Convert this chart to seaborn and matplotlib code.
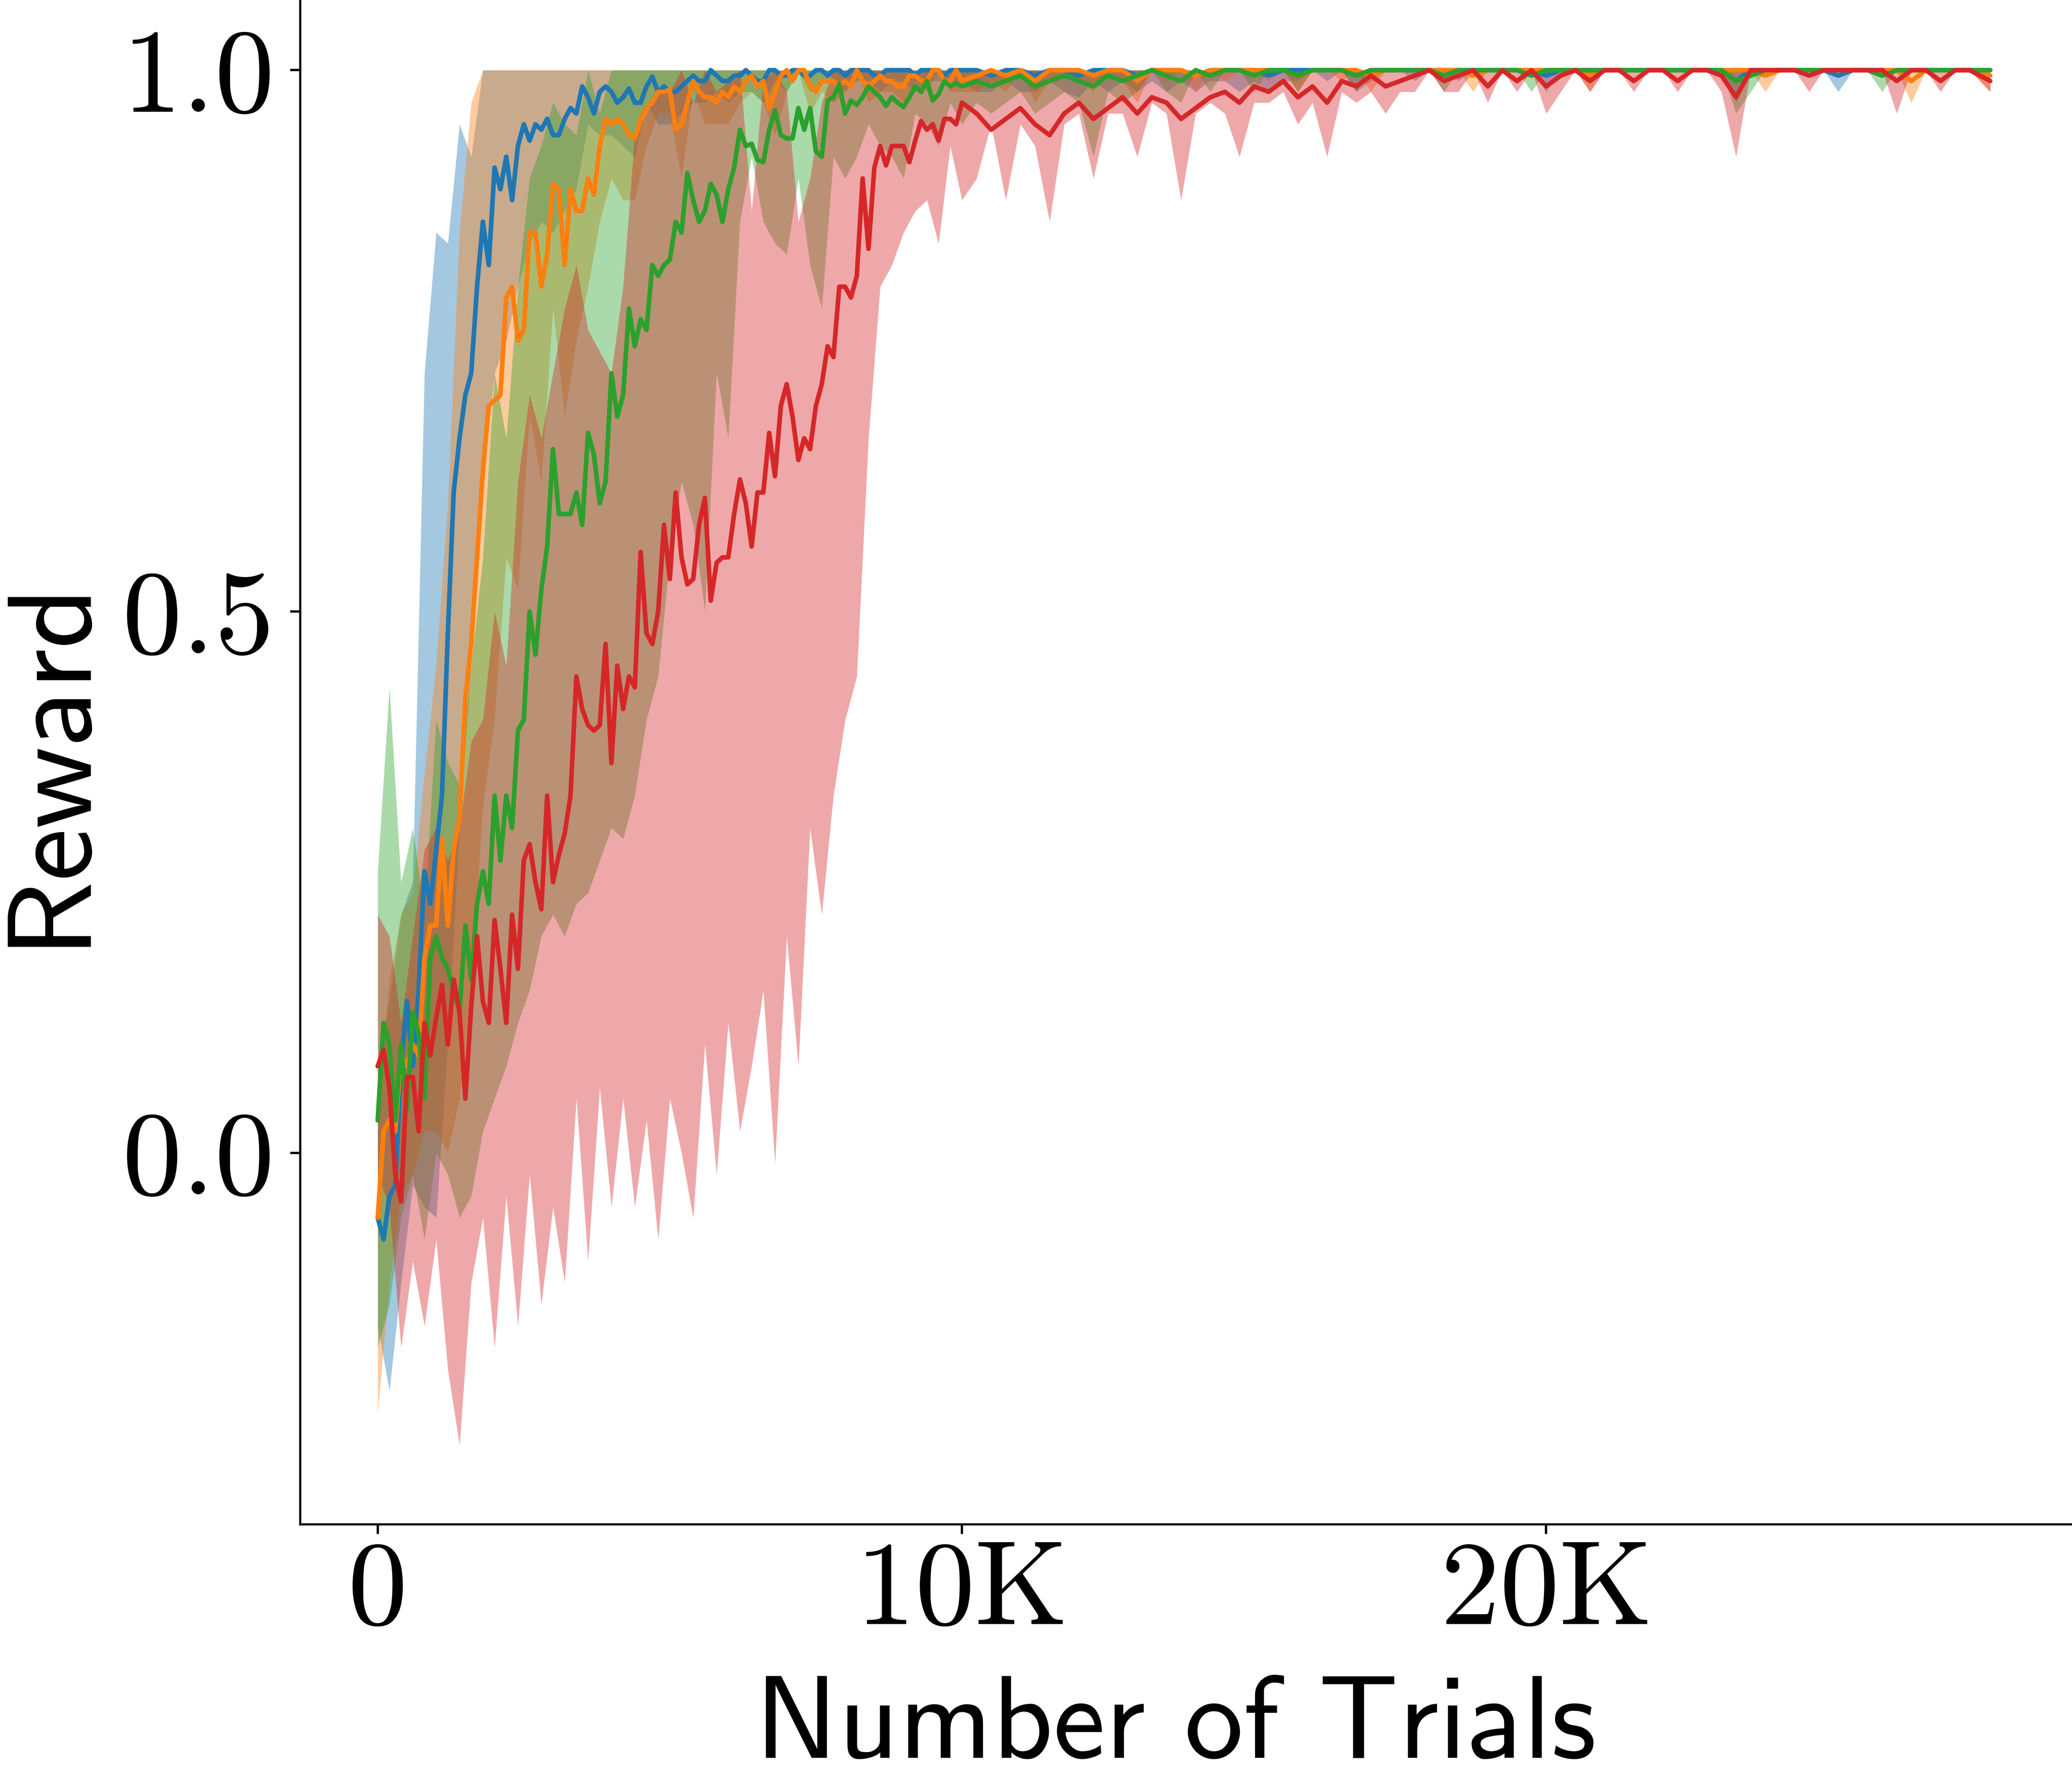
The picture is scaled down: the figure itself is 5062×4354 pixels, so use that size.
import matplotlib
matplotlib.use("Agg")
import matplotlib.pyplot as plt
import seaborn as sns
import pandas as pd

# evaluation points (number of trials)
line_trials_early = [0, 100, 200, 300, 400, 500, 600, 700, 800, 900,
                     1000, 1100, 1200, 1300, 1400, 1500, 1600, 1700, 1800, 1900,
                     2000, 2100, 2200, 2300, 2400, 2500, 2600, 2700, 2800, 2900,
                     3000, 3100, 3200, 3300, 3400, 3500, 3600, 3700, 3800, 3900,
                     4000, 4100, 4200, 4300, 4400, 4500, 4600, 4700, 4800, 4900,
                     5000, 5100, 5200, 5300, 5400, 5500, 5600, 5700, 5800, 5900,
                     6000, 6100, 6200, 6300, 6400, 6500, 6600, 6700, 6800, 6900,
                     7000, 7100, 7200, 7300, 7400, 7500, 7600, 7700, 7800, 7900,
                     8000, 8100, 8200, 8300, 8400, 8500, 8600, 8700, 8800, 8900,
                     9000, 9100, 9200, 9300, 9400, 9500, 9600, 9700, 9800, 9900,
                     10000]
band_trials_early = [0, 200, 400, 600, 800, 1000, 1200, 1400, 1600, 1800,
                     2000, 2200, 2400, 2600, 2800, 3000, 3200, 3400, 3600, 3800,
                     4000, 4200, 4400, 4600, 4800, 5000, 5200, 5400, 5600, 5800,
                     6000, 6200, 6400, 6600, 6800, 7000, 7200, 7400, 7600, 7800,
                     8000, 8200, 8400, 8600, 8800, 9000, 9200, 9400, 9600, 9800,
                     10000]
trials_late = [10250, 10500, 10750, 11000, 11250, 11500, 11750, 12000, 12250, 12500,
               12750, 13000, 13250, 13500, 13750, 14000, 14250, 14500, 14750, 15000,
               15250, 15500, 15750, 16000, 16250, 16500, 16750, 17000, 17250, 17500,
               17750, 18000, 18250, 18500, 18750, 19000, 19250, 19500, 19750, 20000,
               20250, 20500, 20750, 21000, 21250, 21500, 21750, 22000, 22250, 22500,
               22750, 23000, 23250, 23500, 23750, 24000, 24250, 24500, 24750, 25000,
               25250, 25500, 25750, 26000, 26250, 26500, 26750, 27000, 27250, 27600]

# upper edge of every band once the runs have converged
ceiling_late = [1.0, 1.0, 1.0, 1.0, 1.0, 1.0, 1.0, 1.0, 1.0, 1.0,
                1.0, 1.0, 1.0, 1.0, 1.0, 1.0, 1.0, 1.0, 1.0, 1.0,
                1.0, 1.0, 1.0, 1.0, 1.0, 1.0, 1.0, 1.0, 1.0, 1.0,
                1.0, 1.0, 1.0, 1.0, 1.0, 1.0, 1.0, 1.0, 1.0, 1.0,
                1.0, 1.0, 1.0, 1.0, 1.0, 1.0, 1.0, 1.0, 1.0, 1.0,
                1.0, 1.0, 1.0, 1.0, 1.0, 1.0, 1.0, 1.0, 1.0, 1.0,
                1.0, 1.0, 1.0, 1.0, 1.0, 1.0, 1.0, 1.0, 1.0, 1.0]

# ---------------- blue run ----------------
blue_mean_early = [-0.06, -0.08, -0.04, -0.03, 0.08, 0.14, 0.08, 0.15, 0.26, 0.23,
                   0.28, 0.33, 0.48, 0.61, 0.66, 0.70, 0.72, 0.80, 0.86, 0.82,
                   0.91, 0.89, 0.92, 0.88, 0.93, 0.95, 0.935, 0.95, 0.945, 0.955,
                   0.94, 0.94, 0.955, 0.965, 0.96, 0.985, 0.975, 0.96, 0.98, 0.985,
                   0.98, 0.97, 0.975, 0.983, 0.97, 0.97, 0.985, 0.994, 0.98, 0.985,
                   0.98, 0.98, 0.985, 0.99, 0.995, 0.99, 0.99, 1.0, 0.995, 0.99,
                   0.99, 0.995, 0.995, 1.0, 0.995, 0.99, 0.99, 1.0, 1.0, 0.995,
                   0.995, 1.0, 1.0, 0.995, 0.995, 1.0, 1.0, 0.995, 1.0, 1.0,
                   0.995, 1.0, 1.0, 1.0, 1.0, 0.995, 0.995, 1.0, 1.0, 1.0,
                   1.0, 1.0, 0.995, 1.0, 1.0, 1.0, 1.0, 0.995, 1.0, 1.0,
                   1.0]
blue_mean_late = [1.0, 0.995, 1.0, 1.0, 0.995, 1.0, 1.0, 0.995, 1.0, 1.0,
                  1.0, 0.995, 1.0, 1.0, 1.0, 0.995, 1.0, 1.0, 1.0, 1.0,
                  0.995, 1.0, 1.0, 1.0, 1.0, 1.0, 0.995, 1.0, 1.0, 1.0,
                  1.0, 1.0, 1.0, 1.0, 1.0, 1.0, 1.0, 1.0, 1.0, 0.995,
                  1.0, 1.0, 1.0, 1.0, 1.0, 1.0, 1.0, 1.0, 1.0, 1.0,
                  1.0, 1.0, 0.99, 1.0, 1.0, 1.0, 1.0, 1.0, 1.0, 0.995,
                  1.0, 1.0, 1.0, 1.0, 1.0, 1.0, 1.0, 1.0, 1.0, 1.0]
blue_lo_early = [-0.16, -0.22, -0.12, -0.03, -0.05, -0.06, 0.10, 0.30, 0.45, 0.62,
                 0.72, 0.75, 0.80, 0.84, 0.86, 0.85, 0.87, 0.89, 0.95, 0.94,
                 0.94, 0.93, 0.92, 0.97, 0.95, 0.95, 0.96, 0.97, 0.97, 0.98,
                 0.97, 0.98, 0.98, 0.97, 0.99, 0.98, 1.0, 0.98, 0.99, 0.99,
                 0.98, 0.99, 0.99, 0.98, 0.99, 0.99, 0.98, 0.99, 0.99, 0.99,
                 0.99]
blue_lo_late = [0.98, 0.98, 0.99, 0.98, 0.98, 0.99, 0.98, 0.975, 0.99, 0.98,
                0.99, 0.98, 0.99, 0.98, 0.99, 0.98, 0.99, 0.99, 0.98, 0.99,
                0.98, 0.99, 0.99, 1.0, 0.99, 1.0, 0.98, 0.99, 1.0, 1.0,
                0.99, 1.0, 1.0, 0.99, 1.0, 1.0, 1.0, 1.0, 1.0, 0.98,
                1.0, 1.0, 0.99, 1.0, 1.0, 1.0, 1.0, 1.0, 1.0, 1.0,
                1.0, 1.0, 0.97, 1.0, 1.0, 1.0, 1.0, 1.0, 1.0, 0.98,
                1.0, 1.0, 1.0, 1.0, 1.0, 1.0, 1.0, 1.0, 1.0, 1.0]
blue_hi_early = [0.08, 0.14, 0.22, 0.25, 0.72, 0.85, 0.84, 0.95, 0.92, 1.0,
                 1.0, 1.0, 1.0, 1.0, 1.0, 1.0, 1.0, 1.0, 1.0, 1.0,
                 1.0, 1.0, 1.0, 1.0, 1.0, 1.0, 1.0, 1.0, 1.0, 1.0,
                 1.0, 1.0, 1.0, 1.0, 1.0, 1.0, 1.0, 1.0, 1.0, 1.0,
                 1.0, 1.0, 1.0, 1.0, 1.0, 1.0, 1.0, 1.0, 1.0, 1.0,
                 1.0]

# ---------------- orange run ----------------
orange_mean_early = [-0.06, 0.02, 0.03, 0.02, 0.09, 0.08, 0.10, 0.09, 0.18, 0.21,
                     0.21, 0.29, 0.21, 0.28, 0.31, 0.42, 0.47, 0.55, 0.63, 0.69,
                     0.695, 0.70, 0.79, 0.80, 0.75, 0.76, 0.85, 0.85, 0.80, 0.83,
                     0.895, 0.89, 0.82, 0.89, 0.87, 0.87, 0.90, 0.885, 0.93, 0.955,
                     0.95, 0.955, 0.95, 0.94, 0.937, 0.955, 0.965, 0.97, 0.98, 0.98,
                     0.982, 0.945, 0.95, 0.97, 0.99, 0.98, 0.975, 0.975, 0.97, 0.98,
                     0.975, 0.985, 0.98, 0.99, 0.995, 0.985, 0.99, 0.965, 0.98, 0.995,
                     1.0, 0.99, 1.0, 1.0, 0.985, 0.98, 0.99, 0.99, 0.99, 0.985,
                     0.99, 0.985, 1.0, 0.99, 0.985, 0.99, 0.995, 0.99, 0.99, 0.985,
                     0.985, 0.995, 0.995, 0.99, 0.99, 1.0, 1.0, 0.99, 0.99, 1.0,
                     0.99]
orange_mean_late = [0.995, 1.0, 0.995, 1.0, 0.99, 1.0, 1.0, 1.0, 0.995, 1.0,
                    1.0, 0.99, 1.0, 1.0, 1.0, 0.995, 1.0, 1.0, 1.0, 1.0,
                    1.0, 1.0, 0.995, 1.0, 1.0, 1.0, 1.0, 0.995, 1.0, 1.0,
                    1.0, 1.0, 1.0, 1.0, 0.995, 1.0, 1.0, 1.0, 1.0, 1.0,
                    1.0, 1.0, 0.995, 1.0, 1.0, 1.0, 1.0, 1.0, 1.0, 1.0,
                    1.0, 1.0, 1.0, 1.0, 0.995, 1.0, 1.0, 1.0, 1.0, 1.0,
                    1.0, 1.0, 1.0, 1.0, 0.99, 1.0, 1.0, 1.0, 1.0, 0.995]
orange_lo_early = [-0.24, -0.12, -0.04, -0.02, 0.02, 0.02, 0.0, 0.05, 0.15, 0.32,
                   0.40, 0.55, 0.52, 0.68, 0.62, 0.78, 0.68, 0.75, 0.80, 0.86,
                   0.90, 0.88, 0.88, 0.93, 0.96, 0.96, 0.90, 0.98, 0.95, 0.95,
                   0.95, 0.97, 0.98, 0.97, 0.94, 0.98, 1.0, 0.96, 0.98, 0.97,
                   0.98, 1.0, 0.97, 0.98, 0.98, 0.97, 0.99, 0.98, 1.0, 0.98,
                   0.98]
orange_lo_late = [0.98, 0.99, 0.98, 1.0, 0.97, 0.99, 1.0, 0.99, 0.98, 1.0,
                  0.99, 0.97, 1.0, 0.99, 1.0, 0.98, 1.0, 0.99, 1.0, 1.0,
                  0.99, 1.0, 0.98, 1.0, 1.0, 0.99, 1.0, 0.98, 1.0, 1.0,
                  1.0, 1.0, 1.0, 1.0, 0.98, 1.0, 1.0, 1.0, 1.0, 1.0,
                  1.0, 1.0, 0.98, 1.0, 1.0, 1.0, 1.0, 1.0, 1.0, 1.0,
                  1.0, 1.0, 1.0, 1.0, 0.98, 1.0, 1.0, 1.0, 1.0, 1.0,
                  1.0, 1.0, 1.0, 1.0, 0.97, 1.0, 1.0, 1.0, 1.0, 0.98]
orange_hi_early = [0.05, 0.16, 0.22, 0.24, 0.35, 0.45, 0.60, 0.85, 0.97, 1.0,
                   1.0, 1.0, 1.0, 1.0, 1.0, 1.0, 1.0, 1.0, 1.0, 1.0,
                   1.0, 1.0, 1.0, 1.0, 1.0, 1.0, 1.0, 1.0, 1.0, 1.0,
                   1.0, 1.0, 1.0, 1.0, 1.0, 1.0, 1.0, 1.0, 1.0, 1.0,
                   1.0, 1.0, 1.0, 1.0, 1.0, 1.0, 1.0, 1.0, 1.0, 1.0,
                   1.0]

# ---------------- green run ----------------
green_mean_early = [0.03, 0.12, 0.10, 0.03, 0.10, 0.04, 0.13, 0.11, 0.05, 0.18,
                    0.20, 0.18, 0.17, 0.15, 0.13, 0.21, 0.16, 0.23, 0.26, 0.23,
                    0.33, 0.27, 0.33, 0.30, 0.39, 0.40, 0.50, 0.46, 0.52, 0.56,
                    0.65, 0.59, 0.59, 0.59, 0.61, 0.58, 0.665, 0.645, 0.60, 0.62,
                    0.72, 0.68, 0.70, 0.78, 0.745, 0.77, 0.76, 0.82, 0.81, 0.82,
                    0.825, 0.86, 0.85, 0.905, 0.88, 0.86, 0.87, 0.895, 0.885, 0.86,
                    0.89, 0.91, 0.945, 0.93, 0.932, 0.917, 0.915, 0.945, 0.963, 0.94,
                    0.937, 0.937, 0.965, 0.945, 0.965, 0.925, 0.92, 0.972, 0.975, 0.987,
                    0.96, 0.972, 0.968, 0.975, 0.985, 0.98, 0.975, 0.967, 0.975, 0.97,
                    0.966, 0.975, 0.985, 0.98, 0.99, 0.972, 0.978, 0.99, 0.985, 0.988,
                    0.985]
green_mean_late = [0.99, 0.985, 0.99, 0.995, 0.985, 0.99, 0.995, 0.99, 0.985, 0.995,
                   0.99, 0.995, 1.0, 0.995, 0.99, 1.0, 0.995, 1.0, 1.0, 0.995,
                   1.0, 1.0, 0.995, 1.0, 1.0, 1.0, 0.995, 1.0, 1.0, 1.0,
                   1.0, 1.0, 0.995, 1.0, 1.0, 1.0, 1.0, 1.0, 0.995, 1.0,
                   1.0, 1.0, 1.0, 1.0, 1.0, 1.0, 1.0, 1.0, 1.0, 1.0,
                   1.0, 1.0, 0.99, 0.995, 1.0, 1.0, 1.0, 1.0, 1.0, 1.0,
                   1.0, 1.0, 0.995, 1.0, 1.0, 1.0, 1.0, 1.0, 1.0, 1.0]
green_lo_early = [-0.18, -0.14, -0.06, -0.02, -0.08, 0.0, -0.02, -0.06, -0.04, 0.02,
                  0.05, 0.08, 0.12, 0.15, 0.20, 0.22, 0.20, 0.23, 0.24, 0.27,
                  0.30, 0.29, 0.33, 0.40, 0.44, 0.55, 0.62, 0.58, 0.50, 0.72,
                  0.66, 0.86, 0.92, 0.86, 0.84, 0.83, 0.90, 0.82, 0.78, 0.92,
                  0.90, 0.92, 0.95, 0.93, 0.92, 0.90, 0.96, 0.95, 0.93, 0.97,
                  0.95]
green_lo_late = [0.97, 0.96, 0.97, 0.98, 0.96, 0.97, 0.98, 0.97, 0.92, 0.98,
                 0.97, 0.98, 1.0, 0.98, 0.97, 1.0, 0.98, 1.0, 1.0, 0.98,
                 1.0, 1.0, 0.98, 1.0, 1.0, 1.0, 0.98, 1.0, 1.0, 1.0,
                 1.0, 1.0, 0.98, 1.0, 1.0, 1.0, 1.0, 1.0, 0.98, 1.0,
                 1.0, 1.0, 1.0, 1.0, 1.0, 1.0, 1.0, 1.0, 1.0, 1.0,
                 1.0, 1.0, 0.96, 0.98, 1.0, 1.0, 1.0, 1.0, 1.0, 1.0,
                 1.0, 1.0, 0.98, 1.0, 1.0, 1.0, 1.0, 1.0, 1.0, 1.0]
green_hi_early = [0.26, 0.43, 0.25, 0.30, 0.22, 0.40, 0.36, 0.34, 0.45, 0.55,
                  0.72, 0.66, 0.80, 0.90, 0.93, 0.97, 0.95, 0.94, 1.0, 0.96,
                  1.0, 1.0, 1.0, 1.0, 1.0, 1.0, 1.0, 1.0, 1.0, 1.0,
                  1.0, 1.0, 1.0, 1.0, 1.0, 1.0, 1.0, 1.0, 1.0, 1.0,
                  1.0, 1.0, 1.0, 1.0, 1.0, 1.0, 1.0, 1.0, 1.0, 1.0,
                  1.0]

# ---------------- red run ----------------
red_mean_early = [0.08, 0.095, 0.06, -0.02, -0.045, 0.07, 0.07, 0.02, 0.12, 0.09,
                  0.125, 0.155, 0.10, 0.16, 0.13, 0.05, 0.135, 0.20, 0.14, 0.12,
                  0.215, 0.17, 0.12, 0.22, 0.17, 0.27, 0.285, 0.25, 0.225, 0.33,
                  0.25, 0.275, 0.295, 0.33, 0.44, 0.41, 0.395, 0.39, 0.395, 0.47,
                  0.36, 0.45, 0.41, 0.44, 0.43, 0.555, 0.48, 0.47, 0.50, 0.58,
                  0.53, 0.61, 0.55, 0.525, 0.53, 0.58, 0.605, 0.51, 0.545, 0.55,
                  0.55, 0.59, 0.622, 0.60, 0.56, 0.61, 0.61, 0.665, 0.625, 0.69,
                  0.71, 0.68, 0.64, 0.66, 0.65, 0.69, 0.71, 0.745, 0.735, 0.80,
                  0.80, 0.79, 0.81, 0.90, 0.835, 0.91, 0.93, 0.912, 0.93, 0.93,
                  0.93, 0.915, 0.935, 0.953, 0.945, 0.95, 0.935, 0.955, 0.955, 0.95,
                  0.97]
red_mean_late = [0.96, 0.945, 0.955, 0.965, 0.95, 0.94, 0.96, 0.97, 0.955, 0.965,
                 0.975, 0.96, 0.975, 0.97, 0.955, 0.965, 0.975, 0.98, 0.97, 0.985,
                 0.98, 0.99, 0.975, 0.985, 0.97, 0.99, 0.985, 0.995, 0.985, 0.99,
                 0.995, 1.0, 0.99, 0.995, 1.0, 0.985, 1.0, 0.99, 1.0, 0.985,
                 0.995, 1.0, 0.99, 1.0, 1.0, 0.99, 1.0, 1.0, 0.99, 1.0,
                 1.0, 0.995, 0.975, 1.0, 1.0, 1.0, 1.0, 0.995, 1.0, 1.0,
                 1.0, 1.0, 1.0, 0.99, 1.0, 1.0, 0.99, 1.0, 1.0, 0.99]
red_lo_early = [-0.02, -0.05, -0.18, -0.10, -0.16, -0.08, -0.20, -0.27, -0.12, -0.06,
                -0.18, -0.04, -0.16, -0.02, -0.14, -0.05, -0.12, 0.05, -0.10, 0.06,
                -0.05, 0.05, -0.05, 0.03, -0.08, 0.05, 0.0, -0.06, 0.10, -0.02,
                0.12, 0.02, 0.08, 0.15, -0.01, 0.20, 0.08, 0.30, 0.22, 0.33,
                0.40, 0.44, 0.66, 0.80, 0.82, 0.85, 0.87, 0.88, 0.84, 0.93,
                0.88]
red_lo_late = [0.90, 0.95, 0.88, 0.95, 0.93, 0.86, 0.95, 0.96, 0.90, 0.96,
               0.96, 0.92, 0.97, 0.96, 0.88, 0.96, 0.97, 0.96, 0.92, 0.97,
               0.97, 0.98, 0.95, 0.97, 0.92, 0.98, 0.97, 0.98, 0.96, 0.98,
               0.98, 1.0, 0.98, 0.98, 1.0, 0.97, 1.0, 0.98, 1.0, 0.96,
               0.98, 1.0, 0.98, 1.0, 1.0, 0.98, 1.0, 1.0, 0.98, 1.0,
               1.0, 0.98, 0.92, 1.0, 1.0, 1.0, 1.0, 0.98, 1.0, 1.0,
               1.0, 1.0, 1.0, 0.96, 1.0, 1.0, 0.98, 1.0, 1.0, 0.98]
red_hi_early = [0.22, 0.20, 0.12, 0.20, 0.28, 0.30, 0.27, 0.30, 0.38, 0.40,
                0.50, 0.45, 0.62, 0.70, 0.66, 0.72, 0.78, 0.82, 0.76, 0.74,
                0.72, 0.80, 0.94, 0.96, 0.98, 0.98, 1.0, 0.97, 1.0, 0.98,
                0.99, 1.0, 0.87, 0.99, 1.0, 0.98, 0.86, 0.90, 0.97, 1.0,
                1.0, 1.0, 1.0, 1.0, 1.0, 1.0, 1.0, 1.0, 1.0, 1.0,
                1.0]

run_names = ["blue", "orange", "green", "red"]
runs = {
    "blue": (blue_mean_early + blue_mean_late, blue_lo_early + blue_lo_late,
             blue_hi_early + ceiling_late),
    "orange": (orange_mean_early + orange_mean_late, orange_lo_early + orange_lo_late,
               orange_hi_early + ceiling_late),
    "green": (green_mean_early + green_mean_late, green_lo_early + green_lo_late,
              green_hi_early + ceiling_late),
    "red": (red_mean_early + red_mean_late, red_lo_early + red_lo_late,
            red_hi_early + ceiling_late),
}
line_trials = line_trials_early + trials_late
band_trials = band_trials_early + trials_late

x_ticks = [0, 10000, 20000]
x_tick_labels = ["0", "10K", "20K"]
y_ticks = [0.0, 0.5, 1.0]
y_tick_labels = ["0.0", "0.5", "1.0"]

# long form tables for seaborn / fill_between
line_frames, band_frames = [], []
for name in run_names:
    mean, lo, hi = runs[name]
    line_frames.append(pd.DataFrame({"trials": line_trials, "reward": mean, "run": name}))
    band_frames.append(pd.DataFrame({"trials": band_trials, "lo": lo, "hi": hi, "run": name}))
lines_df = pd.concat(line_frames, ignore_index=True)
bands_df = pd.concat(band_frames, ignore_index=True)

sns.set_style("ticks")
plt.rcParams["axes.unicode_minus"] = False
plt.rcParams["text.color"] = "black"
plt.rcParams["axes.labelcolor"] = "black"
plt.rcParams["xtick.color"] = "black"
plt.rcParams["ytick.color"] = "black"
plt.rcParams["axes.edgecolor"] = "black"

fig = plt.figure(figsize=(5062 / 300, 4354 / 300), dpi=300)
ax = fig.add_axes([0.1448, 0.1447, 0.8552, 0.8548])

palette = dict(zip(run_names, sns.color_palette("tab10", 4)))

# shaded bands first, in run order
for name in run_names:
    sub = bands_df[bands_df["run"] == name]
    ax.fill_between(sub["trials"], sub["lo"], sub["hi"],
                    color=palette[name], alpha=0.4, linewidth=0, zorder=1)

sns.lineplot(data=lines_df, x="trials", y="reward", hue="run", hue_order=run_names,
             palette=palette, linewidth=2.7, errorbar=None, legend=False,
             ax=ax, zorder=3)
for line in ax.lines:
    line.set_linewidth(2.7)

ax.set_xlim(-1330, 29000)
ax.set_ylim(-0.343, 1.064)

ax.set_xticks(x_ticks)
ax.set_xticklabels(x_tick_labels, fontfamily="cmr10", fontsize=70)
ax.set_yticks(y_ticks)
ax.set_yticklabels(y_tick_labels, fontfamily="cmr10", fontsize=70)
ax.tick_params(axis="both", length=5.8, width=1.35)
ax.tick_params(axis="x", pad=4)
ax.tick_params(axis="y", pad=9)

ax.set_xlabel("Number of Trials", fontfamily="cmss10", fontsize=69)
ax.set_ylabel("Reward", fontfamily="cmss10", fontsize=70)
ax.xaxis.set_label_coords(0.494, -0.1534)
ax.xaxis.label.set_va("baseline")
ax.yaxis.set_label_coords(-0.1241, 0.501)
ax.yaxis.label.set_va("baseline")

sns.despine(ax=ax)
for side in ["left", "bottom"]:
    ax.spines[side].set_linewidth(1.3)

fig.savefig("out.png", dpi=300)
plt.close(fig)
